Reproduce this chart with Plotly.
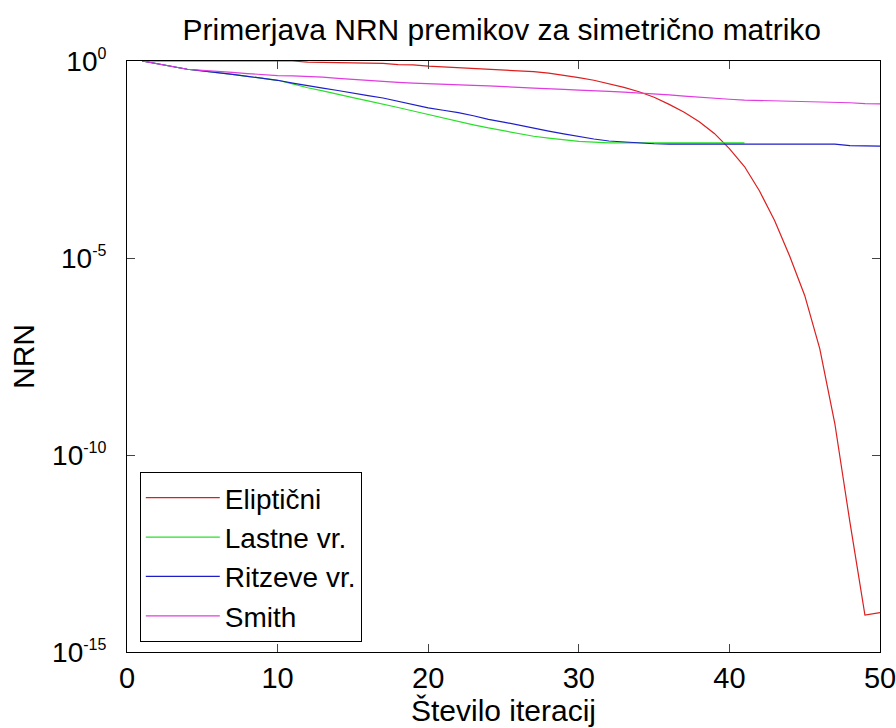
import plotly.graph_objects as go

iterations = list(range(1, 51))

eliptic = [1.0, 1.0, 1.0, 1.0, 1.0, 1.0, 1.0, 1.0, 1.0, 1.0,
           1.0, 0.933, 0.923, 0.912, 0.902, 0.891, 0.871, 0.813, 0.794, 0.741,
           0.708, 0.692, 0.661, 0.631, 0.603, 0.575, 0.537, 0.490, 0.437, 0.380,
           0.324, 0.269, 0.214, 0.166, 0.120, 0.0794, 0.0501, 0.0288, 0.0145, 6.0e-3,
           2.1e-3, 5.0e-4, 8.9e-5, 1.12e-5, 1.12e-6, 5.0e-8, 6.3e-10, 2.0e-12, 8.7e-15, 1.0e-14]

lastne_iter = list(range(1, 42))
lastne = [1.0, 0.851, 0.724, 0.617, 0.562, 0.513, 0.457, 0.407, 0.363, 0.324,
          0.263, 0.209, 0.174, 0.141, 0.117, 0.0977, 0.0813, 0.0661, 0.0537, 0.0437,
          0.0355, 0.0288, 0.0240, 0.0200, 0.0170, 0.0141, 0.0123, 0.0110, 0.0100, 0.00912,
          0.00871, 0.00832, 0.00832, 0.00832, 0.00832, 0.00832, 0.00832, 0.00832, 0.00832, 0.00832,
          0.00832]

ritz = [1.0, 0.851, 0.724, 0.617, 0.562, 0.513, 0.457, 0.407, 0.363, 0.324,
        0.275, 0.234, 0.204, 0.178, 0.151, 0.132, 0.115, 0.0955, 0.0776, 0.0646,
        0.0562, 0.0490, 0.0407, 0.0331, 0.0282, 0.0234, 0.0195, 0.0166, 0.0141, 0.0120,
        0.0105, 0.00933, 0.00871, 0.00832, 0.00794, 0.00776, 0.00776, 0.00776, 0.00776, 0.00776,
        0.00776, 0.00776, 0.00776, 0.00776, 0.00776, 0.00776, 0.00776, 0.00708, 0.00692, 0.00692]

smith = [1.0, 0.851, 0.724, 0.617, 0.575, 0.550, 0.513, 0.479, 0.447, 0.427,
         0.417, 0.407, 0.389, 0.363, 0.339, 0.316, 0.302, 0.288, 0.275, 0.263,
         0.251, 0.245, 0.240, 0.234, 0.219, 0.214, 0.204, 0.200, 0.191, 0.182,
         0.178, 0.170, 0.162, 0.155, 0.148, 0.138, 0.129, 0.120, 0.112, 0.107,
         0.102, 0.100, 0.0977, 0.0955, 0.0933, 0.0912, 0.0891, 0.0871, 0.0832, 0.0813]

names = ["Eliptični", "Lastne vr.", "Ritzeve vr.", "Smith"]
colors = ["#dc1e1e", "#28e028", "#1e1ec8", "#e03ce0"]

y_tickvals = [1e-15, 1e-10, 1e-5, 1]
y_exponents = ["-15", "-10", "-5", "0"]
x_tickvals = [0, 10, 20, 30, 40, 50]

y_ticktext = ["10<sup><span style='font-size:16px'>%s</span></sup>" % e for e in y_exponents]

fig = go.Figure()
series = [(iterations, eliptic), (lastne_iter, lastne), (iterations, ritz), (iterations, smith)]
for (xs, ys), name, col in zip(series, names, colors):
    fig.add_trace(go.Scatter(x=xs, y=ys, mode="lines", name=name,
                             line=dict(color=col, width=1.2)))

font_family = "Liberation Sans, Arial, sans-serif"
fig.update_layout(
    width=896, height=728,
    margin=dict(l=127, r=16, t=61, b=76),
    paper_bgcolor="white", plot_bgcolor="white",
    title=dict(text="Primerjava NRN premikov za simetrično matriko",
               x=0.56, xanchor="center", y=0.960, yanchor="middle",
               font=dict(family=font_family, size=30, color="black")),
    font=dict(family=font_family, color="black"),
    showlegend=True,
    legend=dict(x=0.017, y=0.017, xanchor="left", yanchor="bottom",
                bgcolor="white", bordercolor="black", borderwidth=1,
                font=dict(family=font_family, size=28, color="black"),
                itemwidth=74, tracegroupgap=0),
)
fig.update_xaxes(range=[0, 50], tickvals=x_tickvals, ticks="inside", ticklen=8,
                 showline=True, linecolor="black", linewidth=1, mirror="ticks",
                 showgrid=False, zeroline=False, ticklabeloverflow="allow",
                 automargin=False,
                 tickfont=dict(family=font_family, size=29, color="black"),
                 title=dict(text="Število iteracij", standoff=2,
                            font=dict(family=font_family, size=30, color="black")))
fig.update_yaxes(type="log", range=[-15, 0], tickvals=y_tickvals, ticktext=y_ticktext,
                 ticks="inside", ticklen=8, ticklabelstandoff=14,
                 showline=True, linecolor="black", linewidth=1, mirror="ticks",
                 showgrid=False, zeroline=False, ticklabeloverflow="allow",
                 automargin=False,
                 tickfont=dict(family=font_family, size=28, color="black"),
                 title=dict(text="NRN", standoff=8,
                            font=dict(family=font_family, size=30, color="black")))

fig.write_html("out.html", config={"displayModeBar": False},
               post_script="document.body.style.margin='0';document.body.style.overflow='hidden';")
